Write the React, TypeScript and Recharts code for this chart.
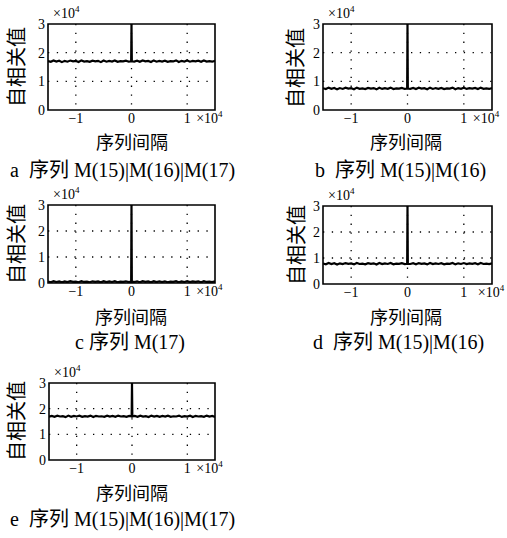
import React from 'react';
import { LineChart, Line, XAxis, YAxis, CartesianGrid, ReferenceArea } from 'recharts';

const lags = [
  -15000, -14500, -14000, -13500, -13000, -12500, -12000, -11500, -11000, -10500,
  -10000, -9500, -9000, -8500, -8000, -7500, -7000, -6500, -6000, -5500,
  -5000, -4500, -4000, -3500, -3000, -2500, -2000, -1500, -1000, -500,
  -60, 0, 60,
  500, 1000, 1500, 2000, 2500, 3000, 3500, 4000, 4500, 5000,
  5500, 6000, 6500, 7000, 7500, 8000, 8500, 9000, 9500, 10000,
  10500, 11000, 11500, 12000, 12500, 13000, 13500, 14000, 14500, 15000,
];

const seriesA = [
  17100, 16800, 17300, 16900, 17200, 16700, 17150, 16850, 17250, 16950, 17100, 16750, 17300, 16900, 17050,
  16800, 17200, 16950, 17150, 16700, 17250, 16850, 17100, 16900, 17300, 16800, 17050, 16950, 17200, 16850,
  17000, 30000, 17000,
  16900, 17200, 16800, 17250, 16950, 17100, 16750, 17300, 16850, 17150, 16900, 17200, 16800, 17050, 16950,
  17300, 16750, 17150, 16900, 17250, 16850, 17100, 16950, 17200, 16800, 17300, 16900, 17050, 16850, 17150,
];
const seriesB = [
  7600, 7300, 7800, 7400, 7700, 7200, 7650, 7350, 7750, 7450, 7600, 7250, 7800, 7400, 7550,
  7300, 7700, 7450, 7650, 7200, 7750, 7350, 7600, 7400, 7800, 7300, 7550, 7450, 7700, 7350,
  7500, 30000, 7500,
  7400, 7700, 7300, 7750, 7450, 7600, 7250, 7800, 7350, 7650, 7400, 7700, 7300, 7550, 7450,
  7800, 7250, 7650, 7400, 7750, 7350, 7600, 7450, 7700, 7300, 7800, 7400, 7550, 7350, 7650,
];
const seriesC = [
  600, 300, 700, 400, 650, 250, 600, 350, 700, 450, 550, 300, 700, 400, 550,
  300, 650, 450, 600, 250, 700, 350, 600, 400, 700, 300, 550, 450, 650, 350,
  500, 30000, 500,
  400, 650, 300, 700, 450, 600, 250, 700, 350, 650, 400, 650, 300, 550, 450,
  700, 250, 650, 400, 700, 350, 600, 450, 650, 300, 700, 400, 550, 350, 650,
];
const seriesD = [
  7900, 7600, 8100, 7700, 8000, 7500, 7950, 7650, 8050, 7750, 7900, 7550, 8100, 7700, 7850,
  7600, 8000, 7750, 7950, 7500, 8050, 7650, 7900, 7700, 8100, 7600, 7850, 7750, 8000, 7650,
  7800, 30000, 7800,
  7700, 8000, 7600, 8050, 7750, 7900, 7550, 8100, 7650, 7950, 7700, 8000, 7600, 7850, 7750,
  8100, 7550, 7950, 7700, 8050, 7650, 7900, 7750, 8000, 7600, 8100, 7700, 7850, 7650, 7950,
];
const seriesE = [
  16900, 17200, 16850, 17250, 16950, 17100, 16700, 17300, 16850, 17150, 16950, 17250, 16800, 17100, 16900,
  17300, 16750, 17200, 16950, 17050, 16800, 17250, 16900, 17150, 16850, 17300, 16950, 17100, 16800, 17200,
  17000, 30000, 17000,
  17150, 16850, 17250, 16900, 17100, 16750, 17300, 16950, 17200, 16800, 17150, 16900, 17250, 16850, 17050,
  16950, 17300, 16800, 17100, 16900, 17250, 16750, 17200, 16950, 17100, 16850, 17300, 16900, 17150, 16800,
];

const xTicks = [-10000, 0, 10000];
const yTicks = [0, 10000, 20000, 30000];
const xDomain = [-15000, 15000];
const yDomain = [0, 30000];
const yTitle = '自相关值';
const xTitle = '序列间隔';
const captions = [
  'a\u00a0\u00a0序列 M(15)|M(16)|M(17)',
  'b\u00a0\u00a0序列 M(15)|M(16)',
  'c 序列 M(17)',
  'd\u00a0\u00a0序列 M(15)|M(16)',
  'e\u00a0\u00a0序列 M(15)|M(16)|M(17)',
];

const SERIF = "'Liberation Serif', 'Noto Sans CJK SC', serif";
const CJK = "'Noto Sans CJK SC', 'Liberation Serif', sans-serif";

const fmt = (v: number) => {
  const n = v / 10000;
  return n < 0 ? '\u2212' + Math.abs(n) : String(n);
};

const makeXTick = (expGap: number) => (props: any) => {
  const { x, y, payload } = props;
  const v = payload.value;
  return (
    <g>
      <text x={x} y={y + 13} textAnchor="middle" fontFamily={SERIF} fontSize={14} fill="#000">
        {fmt(v)}
      </text>
      {v === 10000 && (
        <text x={x + expGap} y={y + 13} textAnchor="start" fontFamily={SERIF} fontSize={14} fill="#000">
          ×10
          <tspan dy={-6} fontSize={9}>4</tspan>
        </text>
      )}
    </g>
  );
};

const YTick = (props: any) => {
  const { x, y, payload } = props;
  const v = payload.value;
  return (
    <g>
      <text x={x} y={y + 5} textAnchor="end" fontFamily={SERIF} fontSize={14} fill="#000">
        {fmt(v)}
      </text>
      {v === 30000 && (
        <text x={x + 8} y={y - 6} textAnchor="start" fontFamily={SERIF} fontSize={14} fill="#000">
          ×10
          <tspan dy={-6} fontSize={9}>4</tspan>
        </text>
      )}
    </g>
  );
};

type PanelProps = {
  box: [number, number, number, number];
  values: number[];
  expGap: number;
  xLabel: [number, number];
  yLabel: [number, number];
  caption: string;
  captionPos: [number, number];
};

const Panel = ({ box, values, expGap, xLabel, yLabel, caption, captionPos }: PanelProps) => {
  const [x0, y0, x1, y1] = box;
  const ML = 48, MT = 24, MR = 40, MB = 30;
  const width = x1 - x0 + ML + MR;
  const height = y1 - y0 + MT + MB;
  const data = lags.map((lag, i) => ({ lag, v: values[i] }));
  return (
    <>
      <div style={{ position: 'absolute', left: x0 - ML, top: y0 - MT }}>
        <LineChart width={width} height={height} data={data} margin={{ top: MT, right: MR, bottom: MB - 20, left: ML - 30 }}>
          <CartesianGrid
            stroke="#000"
            strokeWidth={1.3}
            strokeDasharray="1.3 7.5"
            horizontalValues={[10000, 20000]}
            verticalValues={xTicks}
          />
          <XAxis
            type="number"
            dataKey="lag"
            domain={xDomain}
            ticks={xTicks}
            allowDataOverflow
            height={20}
            axisLine={false}
            tickLine={false}
            tickSize={0}
            tickMargin={0}
            tick={makeXTick(expGap)}
            interval={0}
          />
          <YAxis
            type="number"
            domain={yDomain}
            ticks={yTicks}
            allowDataOverflow
            width={30}
            axisLine={false}
            tickLine={false}
            tickSize={0}
            tickMargin={3}
            tick={YTick}
            interval={0}
          />
          <Line
            type="linear"
            dataKey="v"
            stroke="#000"
            strokeWidth={2.2}
            dot={false}
            isAnimationActive={false}
          />
          <ReferenceArea
            x1={xDomain[0]}
            x2={xDomain[1]}
            y1={yDomain[0]}
            y2={yDomain[1]}
            fill="none"
            fillOpacity={0}
            stroke="#000"
            strokeWidth={1.6}
            ifOverflow="visible"
          />
        </LineChart>
      </div>
      <div
        style={{
          position: 'absolute',
          left: yLabel[0],
          top: yLabel[1],
          transform: 'translate(-50%, -50%) rotate(-90deg)',
          fontFamily: CJK,
          fontSize: 20,
          lineHeight: '18px',
          whiteSpace: 'nowrap',
          color: '#000',
        }}
      >
        {yTitle}
      </div>
      <div
        style={{
          position: 'absolute',
          left: xLabel[0],
          top: xLabel[1],
          transform: 'translate(-50%, -50%)',
          fontFamily: CJK,
          fontSize: 18,
          lineHeight: '16px',
          whiteSpace: 'nowrap',
          color: '#000',
        }}
      >
        {xTitle}
      </div>
      <div
        style={{
          position: 'absolute',
          left: captionPos[0],
          top: captionPos[1],
          transform: 'translateY(-50%)',
          fontFamily: SERIF,
          fontSize: 20,
          lineHeight: '16px',
          whiteSpace: 'nowrap',
          color: '#000',
        }}
      >
        {caption}
      </div>
    </>
  );
};

export default function App() {
  return (
    <div style={{ position: 'absolute', left: 0, top: 0, width: 507, height: 538, background: '#fff', overflow: 'hidden' }}>
      <Panel box={[48, 24, 215, 110]} values={seriesA} expGap={9} xLabel={[132, 141]} yLabel={[16, 67]} caption={captions[0]} captionPos={[10, 170]} />
      <Panel box={[323, 24, 492, 110]} values={seriesB} expGap={9} xLabel={[406, 141]} yLabel={[295, 68]} caption={captions[1]} captionPos={[315, 170]} />
      <Panel box={[48, 205, 215, 283]} values={seriesC} expGap={9} xLabel={[131, 316]} yLabel={[16, 244]} caption={captions[2]} captionPos={[75, 342]} />
      <Panel box={[323, 206, 492, 284]} values={seriesD} expGap={14} xLabel={[406, 316]} yLabel={[296, 245]} caption={captions[3]} captionPos={[313, 342]} />
      <Panel box={[49, 383, 215, 460]} values={seriesE} expGap={9} xLabel={[132, 492]} yLabel={[16, 421]} caption={captions[4]} captionPos={[10, 519]} />
    </div>
  );
}
